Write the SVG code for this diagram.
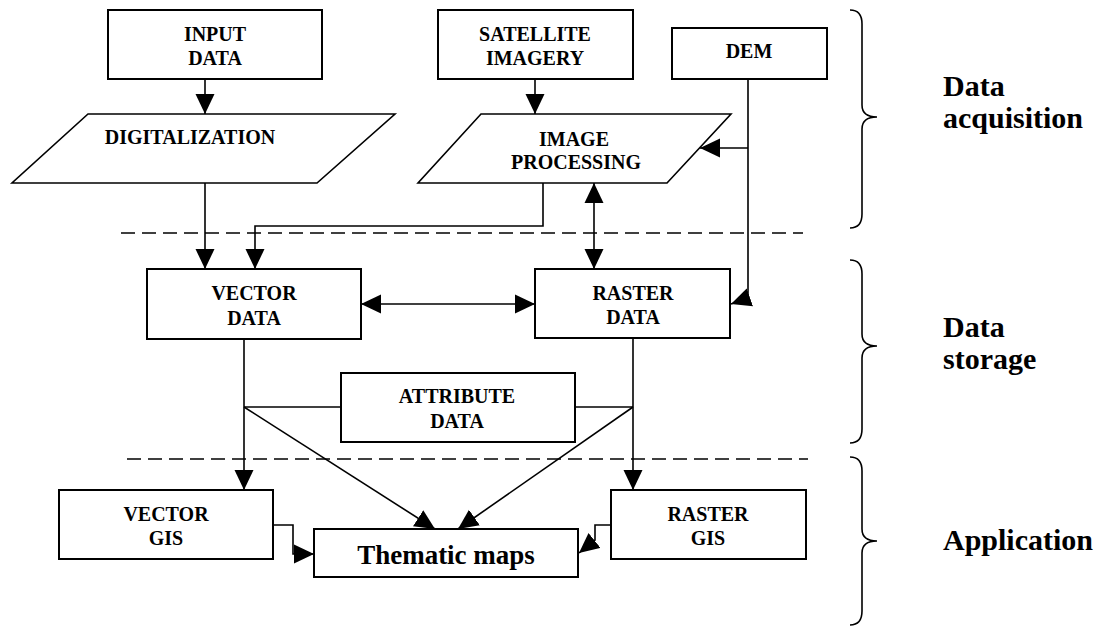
<svg xmlns="http://www.w3.org/2000/svg" width="1104" height="633" viewBox="0 0 1104 633">
  <style>
    .box { fill: #fff; stroke: #000; stroke-width: 2; }
    .lbl { font-family: "Liberation Serif", "Times New Roman", serif; font-weight: bold; font-size: 20px; text-anchor: middle; fill: #000; }
    .big { font-family: "Liberation Serif", "Times New Roman", serif; font-weight: bold; font-size: 27px; text-anchor: middle; fill: #000; }
    .side { font-family: "Liberation Serif", "Times New Roman", serif; font-weight: bold; font-size: 30px; fill: #000; }
    .ln { fill: none; stroke: #000; stroke-width: 1.6; }
    .arr { fill: none; stroke: #000; stroke-width: 1.6; marker-end: url(#ah); }
    .arr2 { fill: none; stroke: #000; stroke-width: 1.6; marker-start: url(#ah); marker-end: url(#ah); }
    .dash { fill: none; stroke: #000; stroke-width: 1.6; stroke-dasharray: 14 7; }
    .brace { fill: none; stroke: #000; stroke-width: 1.6; }
  </style>
  <defs>
    <marker id="ah" markerUnits="userSpaceOnUse" markerWidth="20" markerHeight="20" viewBox="0 0 20 20" refX="20" refY="10" orient="auto-start-reverse">
      <path d="M0,0.5 L20,10 L0,19.5 z" fill="#000"/>
    </marker>
  </defs>
  <rect width="1104" height="633" fill="#fff"/>

  <!-- layer separators -->
  <g id="separators">
    <line class="dash" x1="121" y1="233" x2="803" y2="233"/>
    <line class="dash" x1="127" y1="459" x2="808" y2="459"/>
  </g>

  <!-- connectors -->
  <g id="connectors">
    <path class="arr" d="M205,79 V114"/>
    <path class="arr" d="M535,79 V114"/>
    <path class="arr" d="M205,183 V269"/>
    <path class="arr" d="M543,183 V226 H255 V269"/>
    <path class="arr" d="M748,148 H700"/>
    <path class="arr" d="M748,79 V298 L731,304"/>
    <path class="arr2" d="M594,183 V269"/>
    <path class="arr2" d="M361,304 H535"/>
    <path class="arr" d="M244,339 V490"/>
    <path class="arr" d="M633,338 V490"/>
    <path class="ln" d="M244,407 H341"/>
    <path class="ln" d="M575,407 H633"/>
    <path class="arr" d="M244,407 L435,529"/>
    <path class="arr" d="M633,407 L458,529"/>
    <path class="arr" d="M273,525 H293 V554 H314"/>
    <path class="arr" d="M611,525 H595 V540 L579,553"/>
  </g>

  <!-- nodes -->
  <g id="input-data">
    <rect class="box" x="108" y="10" width="214" height="69"/>
    <text class="lbl" x="215" y="41">INPUT</text>
    <text class="lbl" x="215" y="65">DATA</text>
  </g>
  <g id="satellite-imagery">
    <rect class="box" x="438" y="10" width="195" height="69"/>
    <text class="lbl" x="535" y="41">SATELLITE</text>
    <text class="lbl" x="535" y="65">IMAGERY</text>
  </g>
  <g id="dem">
    <rect class="box" x="672" y="28" width="155" height="51"/>
    <text class="lbl" x="749" y="58">DEM</text>
  </g>
  <g id="digitalization">
    <polygon class="box" points="88,114 395,114 317,183 12,183" style="stroke-width:1.6"/>
    <text class="lbl" x="190" y="144">DIGITALIZATION</text>
  </g>
  <g id="image-processing">
    <polygon class="box" points="481,114 731,114 667,183 418,183" style="stroke-width:1.6"/>
    <text class="lbl" x="574" y="146">IMAGE</text>
    <text class="lbl" x="576" y="169">PROCESSING</text>
  </g>
  <g id="vector-data">
    <rect class="box" x="147" y="269" width="214" height="70"/>
    <text class="lbl" x="254" y="300">VECTOR</text>
    <text class="lbl" x="254" y="325">DATA</text>
  </g>
  <g id="raster-data">
    <rect class="box" x="535" y="269" width="195" height="69"/>
    <text class="lbl" x="633" y="300">RASTER</text>
    <text class="lbl" x="633" y="324">DATA</text>
  </g>
  <g id="attribute-data">
    <rect class="box" x="341" y="373" width="234" height="69"/>
    <text class="lbl" x="457" y="403">ATTRIBUTE</text>
    <text class="lbl" x="457" y="428">DATA</text>
  </g>
  <g id="vector-gis">
    <rect class="box" x="59" y="490" width="214" height="69"/>
    <text class="lbl" x="166" y="521">VECTOR</text>
    <text class="lbl" x="166" y="545">GIS</text>
  </g>
  <g id="raster-gis">
    <rect class="box" x="611" y="490" width="195" height="69"/>
    <text class="lbl" x="708" y="521">RASTER</text>
    <text class="lbl" x="708" y="545">GIS</text>
  </g>
  <g id="thematic-maps">
    <rect class="box" x="314" y="529" width="264" height="48"/>
    <text class="big" x="446" y="564">Thematic maps</text>
  </g>

  <!-- stage braces and labels -->
  <g id="stage-acquisition">
    <path class="brace" d="M850,10 C858,10 862,14 862,24 L862,105 C862,112 866,117 877,117 C866,117 862,122 862,129 L862,214 C862,224 858,228 850,228"/>
    <text class="side" x="943" y="96">Data</text>
    <text class="side" x="943" y="128">acquisition</text>
  </g>
  <g id="stage-storage">
    <path class="brace" d="M850,260 C858,260 862,264 862,274 L862,334 C862,341 866,346 877,346 C866,346 862,351 862,358 L862,429 C862,439 858,443 850,443"/>
    <text class="side" x="943" y="337">Data</text>
    <text class="side" x="943" y="369">storage</text>
  </g>
  <g id="stage-application">
    <path class="brace" d="M850,457 C858,457 862,461 862,471 L862,529 C862,536 866,541 877,541 C866,541 862,546 862,553 L862,611 C862,621 858,625 850,625"/>
    <text class="side" x="943" y="550">Application</text>
  </g>
</svg>
